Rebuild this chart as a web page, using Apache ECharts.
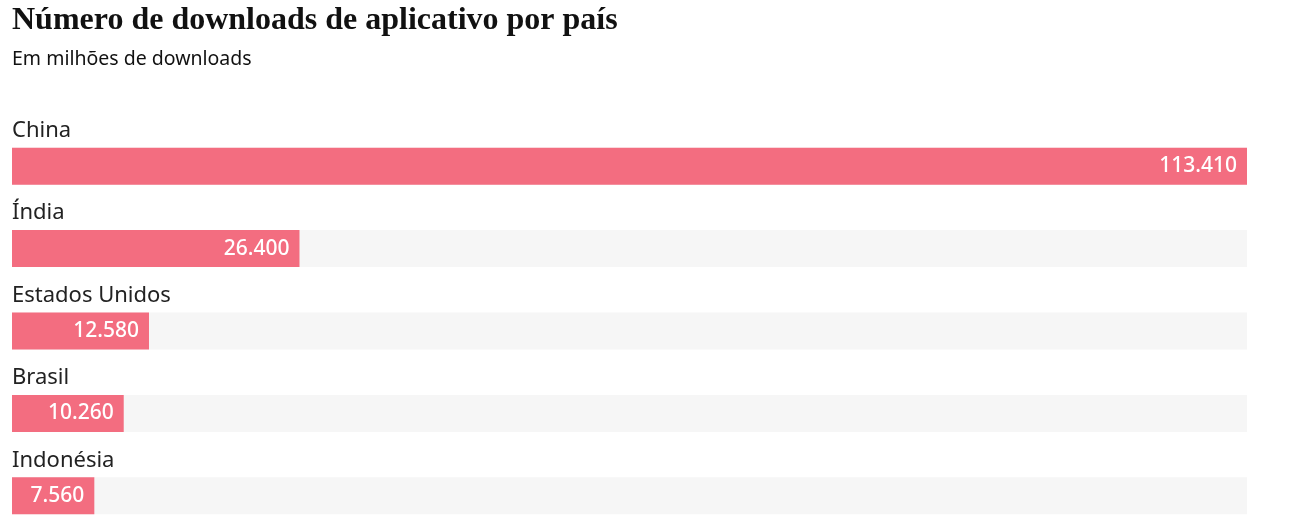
<!DOCTYPE html>
<html>
<head>
<meta charset="utf-8">
<script src="https://cdn.jsdelivr.net/npm/echarts@6/dist/echarts.min.js"></script>
<style>
  html, body { margin: 0; padding: 0; background: #fff; overflow: hidden; }
  #main { width: 1292px; height: 560px; }
</style>
</head>
<body>
<div id="main"></div>
<script>
var paises = ['China', 'Índia', 'Estados Unidos', 'Brasil', 'Indonésia'];
var downloads = [113410, 26400, 12580, 10260, 7560];

function milhar(v) {
    return String(v).replace(/\B(?=(\d{3})+(?!\d))/g, '.');
}

var chart = echarts.init(document.getElementById('main'));

var option = {
    backgroundColor: '#fff',
    title: {
        text: 'Número de downloads de aplicativo por país',
        subtext: 'Em milhões de downloads',
        left: 7,
        top: 0,
        itemGap: 12,
        textStyle: {
            fontFamily: 'Liberation Serif',
            fontWeight: 'bold',
            fontSize: 32,
            color: '#111'
        },
        subtextStyle: {
            fontFamily: 'Noto Sans',
            fontSize: 19.5,
            color: '#111'
        }
    },
    grid: { left: 12, right: 45, top: 125, height: 412 },
    xAxis: {
        type: 'value',
        min: 0,
        max: 'dataMax',
        show: false
    },
    yAxis: {
        type: 'category',
        data: paises,
        inverse: true,
        show: false
    },
    series: [{
        type: 'bar',
        data: downloads,
        barWidth: 37,
        itemStyle: { color: '#f36d80' },
        showBackground: true,
        backgroundStyle: { color: '#f6f6f6' },
        label: {
            show: true,
            position: 'insideRight',
            distance: 10,
            color: '#fff',
            fontFamily: 'Noto Sans',
            fontWeight: 500,
            fontSize: 21,
            formatter: function (p) { return milhar(p.value); }
        }
    }, {
        // same bars, transparent, only to carry the country name above each bar
        type: 'bar',
        data: downloads,
        barWidth: 37,
        barGap: '-100%',
        silent: true,
        itemStyle: { color: 'rgba(0,0,0,0)' },
        label: {
            show: true,
            position: [0, -28],
            align: 'left',
            verticalAlign: 'top',
            color: '#222',
            fontFamily: 'Noto Sans',
            fontSize: 22,
            formatter: function (p) { return p.name; }
        }
    }]
};

chart.setOption(option);
</script>
</body>
</html>
